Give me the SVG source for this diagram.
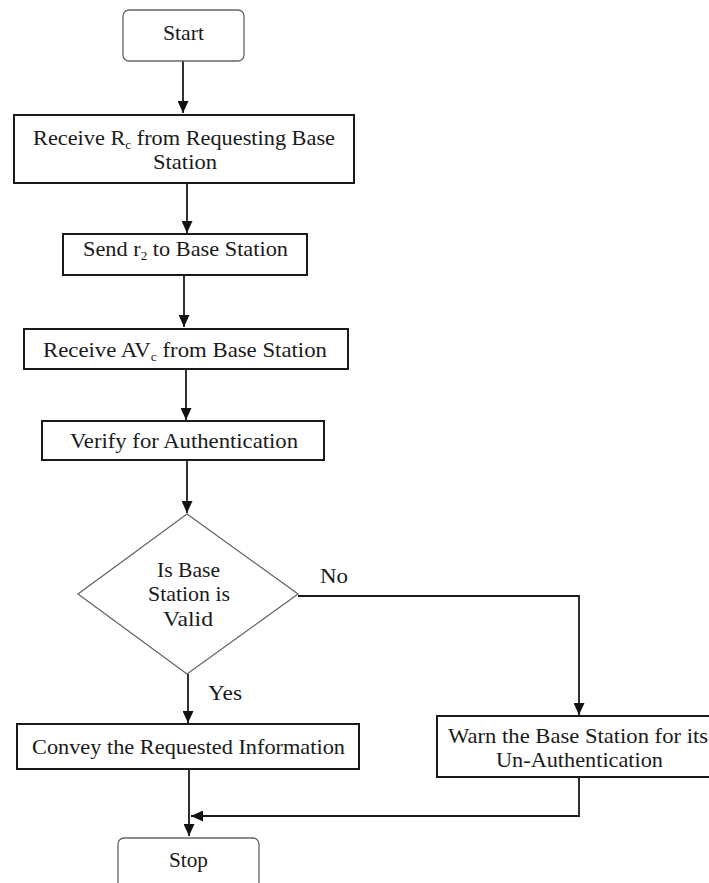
<svg xmlns="http://www.w3.org/2000/svg" width="709" height="883" viewBox="0 0 709 883">
<style>
.box{fill:#fff;stroke:#1a1a1a;stroke-width:2}
.term{fill:#fff;stroke:#666;stroke-width:1.3}
.dia{fill:#fff;stroke:#666;stroke-width:1.3}
.c{stroke:#1a1a1a;stroke-width:1.8;fill:none}
text{fill:#1a1a1a}
.sub{font-size:13px}
</style>
<defs>
<marker id="ah" viewBox="0 0 12 11" refX="12" refY="5.5" markerWidth="12" markerHeight="11" markerUnits="userSpaceOnUse" orient="auto">
<path d="M0,0 L12,5.5 L0,11 Z" fill="#111"/>
</marker>
</defs>
<g font-family="Liberation Serif, DejaVu Serif, serif" font-size="22">
<g id="connectors">
<path class="c" d="M183,61 V113" marker-end="url(#ah)"/>
<path class="c" d="M187,183 V233" marker-end="url(#ah)"/>
<path class="c" d="M184,275 V327" marker-end="url(#ah)"/>
<path class="c" d="M186,369 V420" marker-end="url(#ah)"/>
<path class="c" d="M187,460 V513" marker-end="url(#ah)"/>
<path class="c" d="M188,674 V723" marker-end="url(#ah)"/>
<path class="c" d="M298,596 H579 V715" marker-end="url(#ah)"/>
<path class="c" d="M189,769 V836" marker-end="url(#ah)"/>
<path class="c" d="M579,777 V816 H191" marker-end="url(#ah)"/>
<text x="320" y="583" textLength="28" lengthAdjust="spacingAndGlyphs">No</text>
<text x="208" y="700" textLength="34" lengthAdjust="spacingAndGlyphs">Yes</text>
</g>
<g id="start">
<rect class="term" x="123" y="10" width="121" height="51" rx="6"/>
<text x="163" y="40" textLength="41" lengthAdjust="spacingAndGlyphs">Start</text>
</g>
<g id="receive-rc">
<rect class="box" x="14" y="115" width="340" height="68"/>
<text x="33" y="145" textLength="302" lengthAdjust="spacingAndGlyphs">Receive R<tspan class="sub" dy="4">c</tspan><tspan dy="-4"> from Requesting Base</tspan></text>
<text x="153" y="169" textLength="64" lengthAdjust="spacingAndGlyphs">Station</text>
</g>
<g id="send-r2">
<rect class="box" x="63" y="234" width="244" height="41"/>
<text x="83" y="256" textLength="205" lengthAdjust="spacingAndGlyphs">Send r<tspan class="sub" dy="4">2</tspan><tspan dy="-4"> to Base Station</tspan></text>
</g>
<g id="receive-avc">
<rect class="box" x="24" y="329" width="324" height="40"/>
<text x="43" y="357" textLength="284" lengthAdjust="spacingAndGlyphs">Receive AV<tspan class="sub" dy="4">c</tspan><tspan dy="-4"> from Base Station</tspan></text>
</g>
<g id="verify">
<rect class="box" x="42" y="421" width="282" height="39"/>
<text x="70" y="448" textLength="228" lengthAdjust="spacingAndGlyphs">Verify for Authentication</text>
</g>
<g id="decision">
<polygon class="dia" points="187,514 298,594 187,674 78,594"/>
<text x="157" y="577" textLength="63" lengthAdjust="spacingAndGlyphs">Is Base</text>
<text x="148" y="601" textLength="82" lengthAdjust="spacingAndGlyphs">Station is</text>
<text x="163" y="626" textLength="50" lengthAdjust="spacingAndGlyphs">Valid</text>
</g>
<g id="convey">
<rect class="box" x="17" y="724" width="342" height="45"/>
<text x="32" y="754" textLength="313" lengthAdjust="spacingAndGlyphs">Convey the Requested Information</text>
</g>
<g id="warn">
<rect class="box" x="437" y="716" width="280" height="61"/>
<text x="448" y="743" textLength="260" lengthAdjust="spacingAndGlyphs">Warn the Base Station for its</text>
<text x="496" y="767" textLength="167" lengthAdjust="spacingAndGlyphs">Un-Authentication</text>
</g>
<g id="stop">
<rect class="term" x="118" y="838" width="141" height="60" rx="6"/>
<text x="169" y="867" textLength="39" lengthAdjust="spacingAndGlyphs">Stop</text>
</g>
</g>
</svg>
